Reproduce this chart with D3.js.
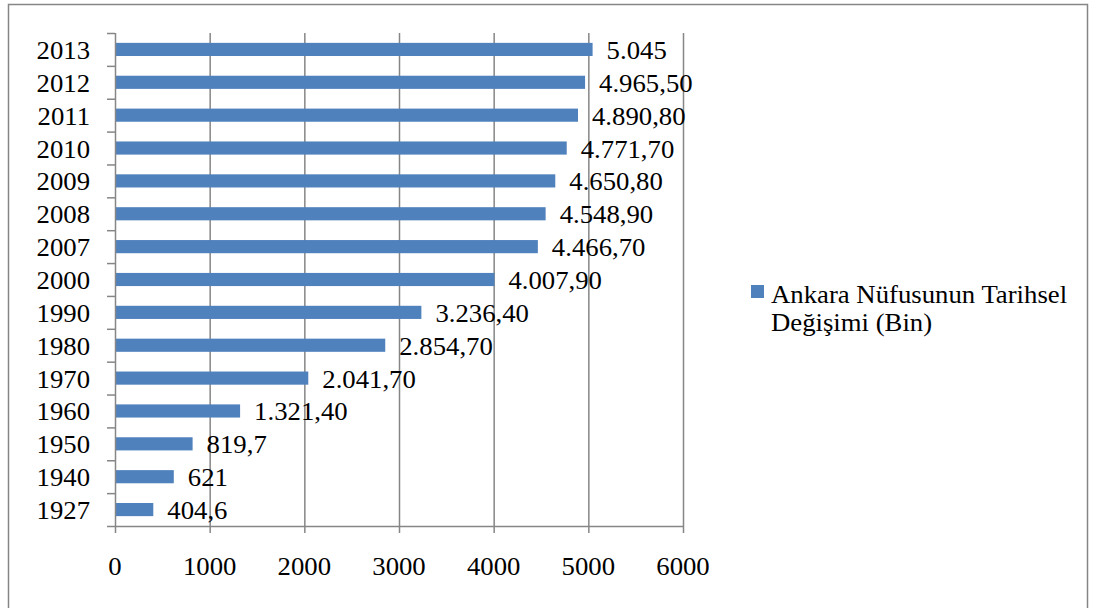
<!DOCTYPE html>
<html>
<head>
<meta charset="utf-8">
<script src="https://cdn.jsdelivr.net/npm/d3@7"></script>
<style>
html,body{margin:0;padding:0;background:#fff;}
svg{display:block;}
text{font-family:"Liberation Serif",serif;fill:#000;}
</style>
</head>
<body>
<svg id="chart" width="1097" height="608"></svg>
<script>
const years = ["2013","2012","2011","2010","2009","2008","2007","2000","1990","1980","1970","1960","1950","1940","1927"];
const values = [5045, 4965.5, 4890.8, 4771.7, 4650.8, 4548.9, 4466.7, 4007.9, 3236.4, 2854.7, 2041.7, 1321.4, 819.7, 621, 404.6];
const valueLabels = ["5.045","4.965,50","4.890,80","4.771,70","4.650,80","4.548,90","4.466,70","4.007,90","3.236,40","2.854,70","2.041,70","1.321,40","819,7","621","404,6"];
const xTicks = [0,1000,2000,3000,4000,5000,6000];
const seriesName = ["Ankara Nüfusunun Tarihsel","Değişimi (Bin)"];

(function(){
const svg = d3.select("#chart");
const gray = "#868686";
const blue = "#4F81BD";
const fs = 25;
const sx = 1.07;
const place = (px, py) => `translate(${px},${py}) scale(${sx},1)`;

// outer border
svg.append("rect").attr("x",8.5).attr("y",4.5).attr("width",1079).attr("height",610)
  .attr("fill","none").attr("stroke",gray).attr("stroke-width",1.5);

const pL = 115, pR = 683, pT = 33, pB = 526;
const x = d3.scaleLinear().domain([0,6000]).range([pL,pR]);
const y = d3.scaleBand().domain(years).range([pT,pB]).paddingInner(0.6).paddingOuter(0.3);
const yb = d3.scaleBand().domain(years).range([pT,pB]);

// gridlines
svg.append("g").selectAll("line").data(xTicks.slice(1)).join("line")
  .attr("x1",d=>x(d)+0.5).attr("x2",d=>x(d)+0.5).attr("y1",pT).attr("y2",pB)
  .attr("stroke",gray).attr("stroke-width",1.5);

// bars
svg.append("g").selectAll("rect").data(values).join("rect")
  .attr("x",x(0)).attr("y",(d,i)=>y(years[i]))
  .attr("width",d=>x(d)-x(0)).attr("height",y.bandwidth())
  .attr("fill",blue);

// y axis line and boundary ticks
svg.append("line").attr("x1",pL+0.5).attr("x2",pL+0.5).attr("y1",pT).attr("y2",pB)
  .attr("stroke",gray).attr("stroke-width",1.5);
const bounds = years.map(d=>yb(d)).concat([pB]);
svg.append("g").selectAll("line").data(bounds).join("line")
  .attr("x1",pL-8).attr("x2",pL).attr("y1",d=>d+0.5).attr("y2",d=>d+0.5)
  .attr("stroke",gray).attr("stroke-width",1.5);

// x axis line and ticks
svg.append("line").attr("x1",pL).attr("x2",pR).attr("y1",pB+0.5).attr("y2",pB+0.5)
  .attr("stroke",gray).attr("stroke-width",1.5);
svg.append("g").selectAll("line").data(xTicks).join("line")
  .attr("x1",d=>x(d)+0.5).attr("x2",d=>x(d)+0.5).attr("y1",pB).attr("y2",pB+7)
  .attr("stroke",gray).attr("stroke-width",1.5);

// x tick labels
svg.append("g").selectAll("text").data(xTicks).join("text")
  .attr("transform",d=>place(x(d),575)).attr("text-anchor","middle")
  .attr("font-size",fs).text(d=>d);

// y tick labels
svg.append("g").selectAll("text").data(years).join("text")
  .attr("transform",d=>place(90,yb(d)+yb.bandwidth()/2+9.5)).attr("text-anchor","end")
  .attr("font-size",fs).text(d=>d);

// data labels
svg.append("g").selectAll("text").data(values).join("text")
  .attr("transform",(d,i)=>place(x(d)+14,yb(years[i])+yb.bandwidth()/2+9.5))
  .attr("font-size",fs).text((d,i)=>valueLabels[i]);

// legend
svg.append("rect").attr("x",751).attr("y",285).attr("width",13).attr("height",13).attr("fill",blue);
svg.append("g").selectAll("text").data(seriesName).join("text")
  .attr("transform",(d,i)=>place(771,303+i*28))
  .attr("font-size",fs).text(d=>d);
})();
</script>
</body>
</html>
